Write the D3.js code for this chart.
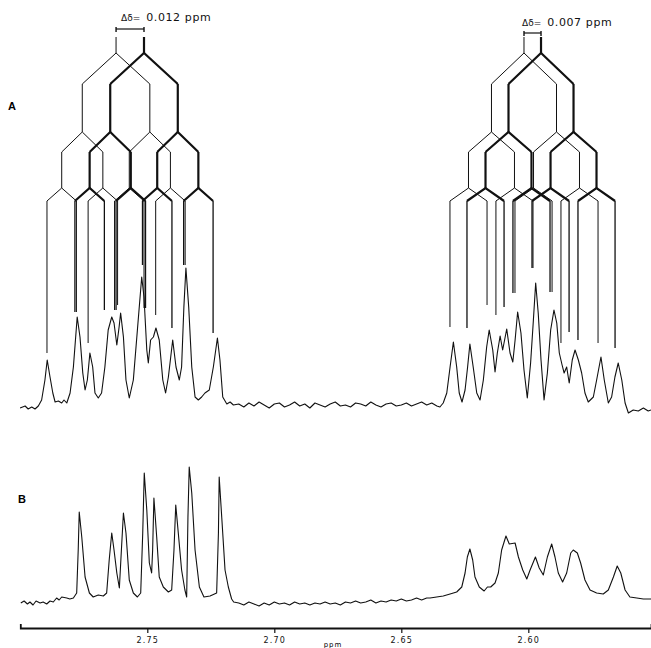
<!DOCTYPE html>
<html><head><meta charset="utf-8">
<script src="https://cdn.jsdelivr.net/npm/d3@7"></script>
<style>body{margin:0;background:#fff}svg{display:block}</style>
</head><body><svg id="c" width="651" height="648"></svg>
<script>
// ---- data (ppm, intensity) ----
const axisTicks = [2.75, 2.70, 2.65, 2.60];
const axisTitle = "ppm";
const panelLabels = ["A", "B"];
const deltaLabels = [["Δδ=", "0.012 ppm"], ["Δδ=", "0.007 ppm"]];

const traceA_left = [[2.8001,-3],[2.7981,-1],[2.7969,-4],[2.7955,-2],[2.7942,-4],[2.7929,-1],[2.7916,5],[2.7903,25],[2.7894,45],[2.7883,28],[2.7872,12],[2.7863,3],[2.7850,4],[2.7837,2],[2.7828,5],[2.7817,2],[2.7804,12],[2.7791,38],[2.7776,88],[2.7765,68],[2.7754,32],[2.7745,15],[2.7736,25],[2.7726,52],[2.7715,38],[2.7706,12],[2.7693,7],[2.7680,12],[2.7667,38],[2.7654,75],[2.7640,88],[2.7631,82],[2.7620,60],[2.7611,78],[2.7605,92],[2.7594,68],[2.7584,25],[2.7571,7],[2.7555,25],[2.7539,75],[2.7522,128],[2.7513,108],[2.7502,55],[2.7496,42],[2.7487,65],[2.7476,68],[2.7466,77],[2.7453,65],[2.7439,25],[2.7428,12],[2.7417,28],[2.7400,65],[2.7387,38],[2.7374,25],[2.7365,38],[2.7356,98],[2.7348,137],[2.7337,98],[2.7325,38],[2.7312,8],[2.7299,5],[2.7286,8],[2.7273,12],[2.7256,15],[2.7240,38],[2.7224,67],[2.7214,45],[2.7203,8],[2.7187,1],[2.7174,3],[2.7161,0]];
const traceA_gap = [[2.714,1],[2.712,-2],[2.710,2],[2.708,-1],[2.706,3],[2.704,0],[2.702,-3],[2.700,1],[2.698,2],[2.696,-2],[2.694,0],[2.692,3],[2.690,-1],[2.688,1],[2.686,-3],[2.684,2],[2.682,0],[2.680,-2],[2.678,1],[2.676,3],[2.674,-1],[2.672,0],[2.670,-2],[2.668,2],[2.666,1],[2.664,-1],[2.662,3],[2.660,0],[2.658,-2],[2.656,1],[2.654,2],[2.652,-1],[2.650,0],[2.648,2],[2.646,-1],[2.644,1],[2.642,3],[2.640,0],[2.638,2],[2.636,-1]];
const traceA_right = [[2.6348,-2],[2.6335,2],[2.6321,12],[2.6308,38],[2.6295,63],[2.6282,38],[2.6272,12],[2.6261,3],[2.6249,15],[2.6239,38],[2.6230,61],[2.6217,38],[2.6203,12],[2.6190,5],[2.6177,25],[2.6164,58],[2.6154,75],[2.6140,55],[2.6131,33],[2.6122,52],[2.6111,69],[2.6101,55],[2.6085,76],[2.6072,52],[2.6061,43],[2.6052,65],[2.6042,93],[2.6029,72],[2.6017,35],[2.6004,7],[2.5991,42],[2.5980,85],[2.5971,122],[2.5961,92],[2.5950,45],[2.5938,5],[2.5925,32],[2.5912,75],[2.5899,95],[2.5888,82],[2.5878,52],[2.5867,40],[2.5859,32],[2.5849,38],[2.5839,22],[2.5827,45],[2.5816,55],[2.5803,45],[2.5790,32],[2.5777,12],[2.5764,3],[2.5744,8],[2.5731,25],[2.5714,48],[2.5701,25],[2.5685,2],[2.5672,8],[2.5659,28],[2.5646,42],[2.5632,25],[2.5619,2],[2.5606,-8],[2.5587,-5],[2.5567,-6],[2.5547,-3],[2.5528,-6],[2.5517,-5]];

const traceB_left = [[2.7998,-1],[2.7985,1],[2.7972,-2],[2.7962,0],[2.7950,-3],[2.7938,1],[2.7922,-1],[2.7910,0],[2.7896,-2],[2.7883,1],[2.7870,0],[2.7857,4],[2.7847,2],[2.7837,5],[2.7817,4],[2.7805,3],[2.7791,4],[2.7778,9],[2.7772,52],[2.7768,90],[2.7758,65],[2.7745,25],[2.7728,9],[2.7713,5],[2.7693,7],[2.7673,6],[2.7660,9],[2.7650,42],[2.7640,69],[2.7631,52],[2.7620,29],[2.7610,14],[2.7602,52],[2.7594,89],[2.7584,69],[2.7571,22],[2.7555,9],[2.7539,5],[2.7526,9],[2.7518,69],[2.7512,129],[2.7502,92],[2.7492,39],[2.7483,29],[2.7479,52],[2.7474,104],[2.7463,65],[2.7453,25],[2.7437,15],[2.7417,10],[2.7404,12],[2.7395,52],[2.7388,97],[2.7378,69],[2.7365,32],[2.7352,12],[2.7345,5],[2.7340,85],[2.7335,135],[2.7325,109],[2.7312,52],[2.7295,15],[2.7277,5],[2.7253,6],[2.7227,9],[2.7220,69],[2.7217,125],[2.7207,85],[2.7194,32],[2.7181,15],[2.7168,3],[2.7160,0]];
const traceB_gap = [[2.714,-1],[2.712,-3],[2.710,0],[2.708,-2],[2.706,-4],[2.704,-1],[2.702,-3],[2.700,0],[2.698,-2],[2.696,-1],[2.694,-3],[2.692,0],[2.690,-2],[2.688,-1],[2.686,-3],[2.684,-1],[2.682,-2],[2.680,0],[2.678,-2],[2.676,-1],[2.674,-3],[2.672,0],[2.670,-1],[2.668,1],[2.666,-1],[2.664,0],[2.662,2],[2.660,-1],[2.658,1],[2.656,0],[2.654,2],[2.652,1],[2.650,3],[2.648,1],[2.646,2],[2.644,4],[2.642,2],[2.640,4]];
const traceB_right = [[2.6387,4],[2.6361,5],[2.6335,6],[2.6308,8],[2.6282,10],[2.6262,15],[2.6249,29],[2.6240,45],[2.6230,53],[2.6219,42],[2.6210,25],[2.6193,15],[2.6174,11],[2.6161,15],[2.6148,15],[2.6131,19],[2.6118,29],[2.6105,52],[2.6088,66],[2.6075,58],[2.6052,59],[2.6039,45],[2.6022,32],[2.6006,23],[2.5993,32],[2.5972,45],[2.5957,34],[2.5941,27],[2.5925,45],[2.5908,58],[2.5895,45],[2.5882,29],[2.5865,20],[2.5849,29],[2.5833,49],[2.5823,52],[2.5807,49],[2.5794,39],[2.5777,22],[2.5757,12],[2.5731,9],[2.5705,8],[2.5685,12],[2.5665,25],[2.5650,36],[2.5636,29],[2.5619,12],[2.5600,5],[2.5573,4],[2.5547,3],[2.5517,3]];

// splitting trees: two parent shifts (thin, thick), couplings J1..J3 (ppm), line-end intensities
const leftParents = [2.7623, 2.7513];
const leftCouplings = [0.0266, 0.0162, 0.0116];
const leftThinEnds = [52, 93, 62, 100, 95, 97, 90, 140];
const leftThickEnds = [93, 95, 95, 97, 140, 77, 140, 72];
const rightParents = [2.6017, 2.5950];
const rightCouplings = [0.0256, 0.0181, 0.0146];
const rightThinEnds = [78, 100, 90, 137, 112, 113, 62, 62];
const rightThickEnds = [77, 98, 112, 113, 137, 73, 65, 57];

// ---- drawing ----
const svg = d3.select("#c");
const x = d3.scaleLinear().domain([2.80, 2.5517]).range([20.3, 651]);
const yA = d3.scaleLinear().domain([0, 150]).range([405, 255]);
const yB = d3.scaleLinear().domain([0, 150]).range([602, 452]);

const lineA = d3.line().x(d => x(d[0])).y(d => yA(d[1]));
const lineB = d3.line().x(d => x(d[0])).y(d => yB(d[1]));

svg.append("path").attr("d", lineA(traceA_left.concat(traceA_gap, traceA_right)))
  .attr("fill", "none").attr("stroke", "#111").attr("stroke-width", 1.1).attr("stroke-linejoin", "round");
svg.append("path").attr("d", lineB(traceB_left.concat(traceB_gap, traceB_right)))
  .attr("fill", "none").attr("stroke", "#111").attr("stroke-width", 1.1).attr("stroke-linejoin", "round");

// trees
const yTop = 37, apexY = [53, 132, 188], childY = [84, 152, 201];
function drawTree(parent, J, ends, w, wFinal) {
  const g = svg.append("g").attr("fill", "none").attr("stroke", "#111").attr("stroke-linecap", "butt");
  g.append("line").attr("x1", x(parent)).attr("x2", x(parent)).attr("y1", yTop).attr("y2", apexY[0]).attr("stroke-width", w);
  let nodes = [parent];
  for (let lv = 0; lv < 3; lv++) {
    const next = [];
    nodes.forEach(c => {
      const hi = c + J[lv] / 2, lo = c - J[lv] / 2;
      g.append("path").attr("stroke-width", w)
        .attr("d", `M${x(hi)},${childY[lv]}L${x(c)},${apexY[lv]}L${x(lo)},${childY[lv]}`);
      next.push(hi, lo);
    });
    nodes = next;
    if (lv < 2) {
      nodes.forEach(c => g.append("line").attr("stroke-width", w)
        .attr("x1", x(c)).attr("x2", x(c)).attr("y1", childY[lv]).attr("y2", apexY[lv + 1]));
    }
  }
  nodes.forEach((c, i) => g.append("line").attr("stroke-width", wFinal)
    .attr("x1", x(c)).attr("x2", x(c)).attr("y1", childY[2]).attr("y2", yA(ends[i])));
}
drawTree(leftParents[0], leftCouplings, leftThinEnds, 1, 1);
drawTree(leftParents[1], leftCouplings, leftThickEnds, 2.2, 1.3);
drawTree(rightParents[0], rightCouplings, rightThinEnds, 1, 1);
drawTree(rightParents[1], rightCouplings, rightThickEnds, 2.2, 1.3);

// delta markers
function deltaMark(p, yBar, tx, ty, lab) {
  const g = svg.append("g").attr("stroke", "#111").attr("fill", "none");
  g.append("line").attr("x1", x(p[0])).attr("x2", x(p[1])).attr("y1", yBar).attr("y2", yBar).attr("stroke-width", 1.2);
  p.forEach(v => g.append("line").attr("x1", x(v)).attr("x2", x(v)).attr("y1", yBar - 2).attr("y2", yBar + 3).attr("stroke-width", 1.4));
  const t = svg.append("text").attr("x", tx).attr("y", ty).attr("font-family", "DejaVu Sans, sans-serif").attr("fill", "#111");
  t.append("tspan").attr("font-size", 9).text(lab[0]);
  t.append("tspan").attr("font-size", 11).attr("dx", 6).attr("letter-spacing", 0.6).text(lab[1]);
}
deltaMark(leftParents, 29, 121, 21, deltaLabels[0]);
deltaMark(rightParents, 33, 522, 26, deltaLabels[1]);

// panel labels
svg.append("text").attr("x", 8).attr("y", 110).attr("font-family", "Liberation Sans, Arial, sans-serif")
  .attr("font-weight", "bold").attr("font-size", 11).text(panelLabels[0]);
svg.append("text").attr("x", 18).attr("y", 503).attr("font-family", "Liberation Sans, Arial, sans-serif")
  .attr("font-weight", "bold").attr("font-size", 11).text(panelLabels[1]);

// axis
const ax = svg.append("g").attr("transform", "translate(0,628)")
  .call(d3.axisBottom(x).tickValues(axisTicks).tickFormat(d3.format(".2f")).tickSize(5).tickSizeOuter(-4).tickPadding(4));
ax.select(".domain").attr("stroke", "#111").attr("stroke-width", 1.8);
ax.selectAll(".tick line").attr("stroke", "#111").attr("stroke-width", 1.2);
ax.selectAll(".tick text").attr("font-family", "DejaVu Sans, sans-serif").attr("font-size", 8)
  .attr("letter-spacing", 1.2).attr("fill", "#111");
svg.append("text").attr("x", 333).attr("y", 647).attr("text-anchor", "middle")
  .attr("font-family", "DejaVu Sans, sans-serif").attr("font-size", 7).attr("letter-spacing", 1).text(axisTitle);
</script></body></html>
